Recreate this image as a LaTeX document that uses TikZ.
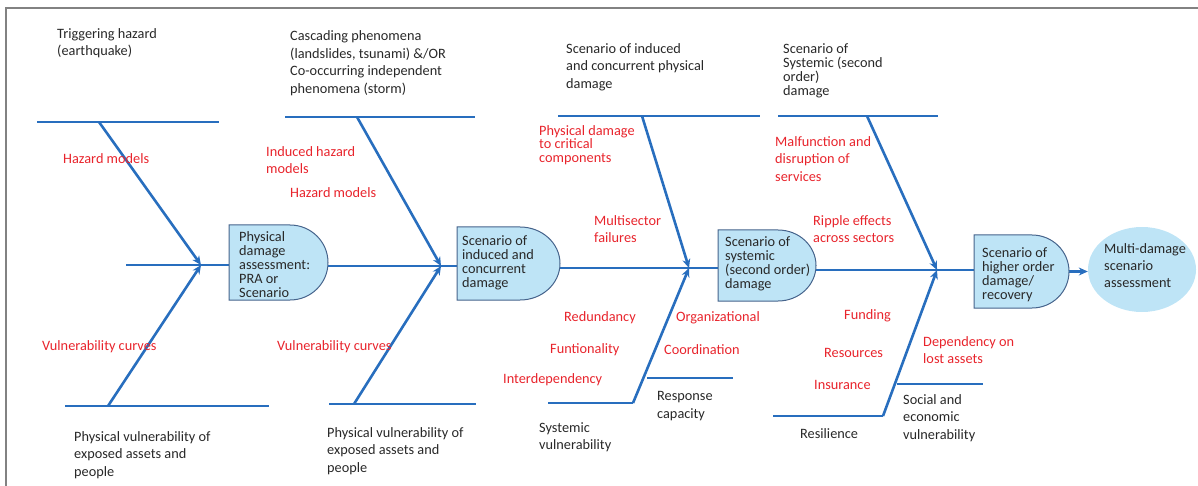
\documentclass[tikz,border=0pt]{standalone}
\usepackage{fontspec}
\setmainfont{Carlito}
\usetikzlibrary{arrows.meta,shapes.geometric,calc}
\definecolor{bone}{RGB}{40,110,190}
\definecolor{boxfill}{RGB}{190,228,246}
\definecolor{boxline}{RGB}{70,100,140}
\definecolor{txt}{RGB}{40,40,40}
\definecolor{redt}{RGB}{232,36,44}
\definecolor{framec}{RGB}{130,130,130}
\newcommand{\drawdbox}[3]{%
  \draw[dshape] (#1.south west) -- (#1.north west) -- ([xshift=-#2]#1.north east)
    arc[start angle=90,end angle=-90,x radius=#2,y radius=#3] -- cycle;}
\begin{document}
\begin{tikzpicture}[x=1pt,y=-1pt,
  lbl/.style={anchor=west, inner sep=0pt, align=left, text=txt, font=\fontsize{14.3}{17.5}\selectfont},
  rlbl/.style={lbl, text=redt},
  boxtxt/.style={lbl, font=\fontsize{14.3}{14}\selectfont},
  bonestyle/.style={draw=bone, line width=2pt},
  diag/.style={draw=bone, line width=2.6pt, -{Stealth[length=9pt,width=8pt]}},
  spine/.style={draw=bone, line width=2.6pt},
  boxshape/.style={rectangle, inner sep=0pt, outer sep=0pt},
  dshape/.style={fill=boxfill, draw=boxline, line width=1pt},
]
\useasboundingbox (0,0) rectangle (1198,486);
% frame
\draw[framec, line width=1.5pt] (6,486) -- (6,8) -- (1198,8);

% boxes (invisible anchors)
\node[boxshape, minimum width=99pt, minimum height=75pt] (b1) at (278.5,262.5) {};
\node[boxshape, minimum width=103pt, minimum height=73pt] (b2) at (508.5,263.5) {};
\node[boxshape, minimum width=98pt, minimum height=71pt] (b3) at (767,265.5) {};
\node[boxshape, minimum width=95pt, minimum height=73pt] (b4) at (1021.5,271.5) {};
\node[ellipse, fill=boxfill, minimum width=108pt, minimum height=85pt, inner sep=0pt] (E) at (1142,269.5) {};

% junctions
\coordinate (J1) at (201,265);
\coordinate (J2) at (441,266);
\coordinate (J3) at (689,268);
\coordinate (J4) at (937,270);
\coordinate (s0) at (126,265);

% top bones
\coordinate (t1a) at (37,122);  \coordinate (t1b) at (219,122); \coordinate (t1c) at (99,122);
\coordinate (t2a) at (285,117); \coordinate (t2b) at (475,117); \coordinate (t2c) at (357,117);
\coordinate (t3a) at (558,116); \coordinate (t3b) at (760,116); \coordinate (t3c) at (642,116);
\coordinate (t4a) at (778,116); \coordinate (t4b) at (938,116); \coordinate (t4c) at (867,116);
% bottom bones
\coordinate (u1a) at (65,406);  \coordinate (u1b) at (269,406); \coordinate (u1c) at (108,406);
\coordinate (u2a) at (329,404); \coordinate (u2b) at (476,404); \coordinate (u2c) at (354,404);
\coordinate (u3a) at (548,403); \coordinate (u3c) at (633,403);
\coordinate (r3a) at (647,378); \coordinate (r3b) at (733,378);
\coordinate (u4a) at (773,416); \coordinate (u4c) at (883,416);
\coordinate (r4a) at (897,384); \coordinate (r4b) at (983,384);

\draw[bonestyle] (t1a) -- (t1b);
\draw[bonestyle] (t2a) -- (t2b);
\draw[bonestyle] (t3a) -- (t3b);
\draw[bonestyle] (t4a) -- (t4b);
\draw[bonestyle] (u1a) -- (u1b);
\draw[bonestyle] (u2a) -- (u2b);
\draw[bonestyle] (u3a) -- (u3c);
\draw[bonestyle] (r3a) -- (r3b);
\draw[bonestyle] (u4a) -- (u4c);
\draw[bonestyle] (r4a) -- (r4b);

% spine
\draw[spine] (s0) -- (s0 -| b1.west);
\draw[spine] (b1.east |- J2) -- (J2 -| b2.west);
\draw[spine] (b2.east |- J3) -- (J3 -| b3.west);
\draw[spine] (b3.east |- J4) -- (J4 -| b4.west);
\draw[spine, -{Stealth[length=9pt,width=8pt]}] (b4.east) -- (b4.east -| E.west);

% diagonals
\draw[diag] (t1c) -- (J1);
\draw[diag] (u1c) -- (J1);
\draw[diag] (t2c) -- (J2);
\draw[diag] (u2c) -- (J2);
\draw[diag] (t3c) -- (J3);
\draw[diag] (u3c) -- (J3);
\draw[diag] (t4c) -- (J4);
\draw[diag] (u4c) -- (J4);

% D-shaped boxes
\drawdbox{b1}{38pt}{37.5pt}
\drawdbox{b2}{40pt}{36.5pt}
\drawdbox{b3}{38pt}{35.5pt}
\drawdbox{b4}{37pt}{36.5pt}

% box texts
\node[boxtxt] (b1t) at (239,265) {Physical\\damage\\assessment:\\PRA or\\Scenario};
\node[boxtxt] (b2t) at (462,262.5) {Scenario of\\induced and\\concurrent\\damage};
\node[boxtxt] (b3t) at (725,264) {Scenario of\\systemic\\(second order)\\damage};
\node[boxtxt] (b4t) at (982,274.5) {Scenario of\\higher order\\damage/\\recovery};
\node[lbl, font=\fontsize{14.3}{17}\selectfont] (Et) at (1104,266) {Multi-damage\\scenario\\assessment};

% black labels
\node[lbl] (L1) at (57,43) {Triggering hazard\\(earthquake)};
\node[lbl] (L2) at (290,63) {Cascading phenomena\\(landslides, tsunami) \&/OR\\Co-occurring independent\\phenomena (storm)};
\node[lbl] (L3) at (566,67) {Scenario of induced\\and concurrent physical\\damage};
\node[lbl, font=\fontsize{14.3}{14}\selectfont] (L4) at (783,71) {Scenario of\\Systemic (second\\order)\\damage};
\node[lbl] (L5) at (74,455) {Physical vulnerability of\\exposed assets and\\people};
\node[lbl] (L6) at (327,451) {Physical vulnerability of\\exposed assets and\\people};
\node[lbl] (L7) at (539,437) {Systemic\\vulnerability};
\node[lbl] (L8) at (657,406) {Response\\capacity};
\node[lbl] (L9) at (800,434) {Resilience};
\node[lbl] (L10) at (903,418) {Social and\\economic\\vulnerability};

% red labels
\node[rlbl] (R1) at (63,159) {Hazard models};
\node[rlbl] (R2) at (42,347) {Vulnerability curves};
\node[rlbl] (R3) at (266,160) {Induced hazard\\models};
\node[rlbl] (R4) at (290,193) {Hazard models};
\node[rlbl] (R5) at (277,347) {Vulnerability curves};
\node[rlbl, font=\fontsize{14.3}{13.5}\selectfont] (R6) at (539,145) {Physical damage\\to critical\\components};
\node[rlbl] (R7) at (594,229) {Multisector\\failures};
\node[rlbl] (R8) at (564,318) {Redundancy};
\node[rlbl] (R9) at (550,350) {Funtionality};
\node[rlbl] (R10) at (503,380) {Interdependency};
\node[rlbl] (R11) at (676,318) {Organizational};
\node[rlbl] (R12) at (664,350) {Coordination};
\node[rlbl] (R13) at (775,159) {Malfunction and\\disruption of\\services};
\node[rlbl] (R14) at (813,229) {Ripple effects\\across sectors};
\node[rlbl] (R15) at (844,316) {Funding};
\node[rlbl] (R16) at (824,353) {Resources};
\node[rlbl] (R17) at (814,385) {Insurance};
\node[rlbl] (R18) at (923,350) {Dependency on\\lost assets};
\end{tikzpicture}
\end{document}
